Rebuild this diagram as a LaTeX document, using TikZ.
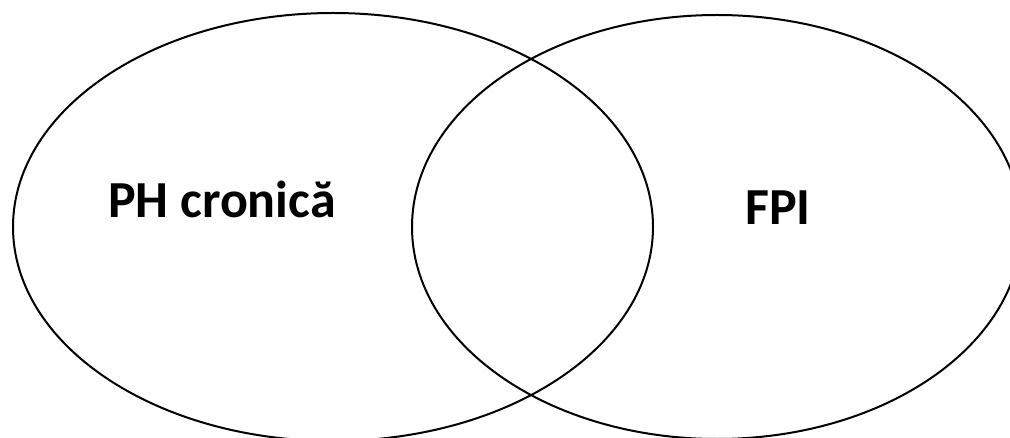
\documentclass[tikz,border=0pt]{standalone}
\usepackage{fontspec}
\setmainfont{Carlito}
\begin{document}
\begin{tikzpicture}[x=0.75pt,y=-0.75pt,
  setoval/.style={draw=black,line width=1.5pt},
  setlabel/.style={font=\fontsize{39}{46}\selectfont\bfseries,anchor=base,inner sep=0pt}]
\useasboundingbox (0,0) rectangle (1010,438);
\draw[setoval] (333,227) ellipse [x radius=320, y radius=214];
\draw[setoval] (717,227) ellipse [x radius=305, y radius=212];
\node[setlabel] (ph) at (222,218) {PH cronică};
\node[setlabel] (fpi) at (778,225) {FPI};
\end{tikzpicture}
\end{document}
